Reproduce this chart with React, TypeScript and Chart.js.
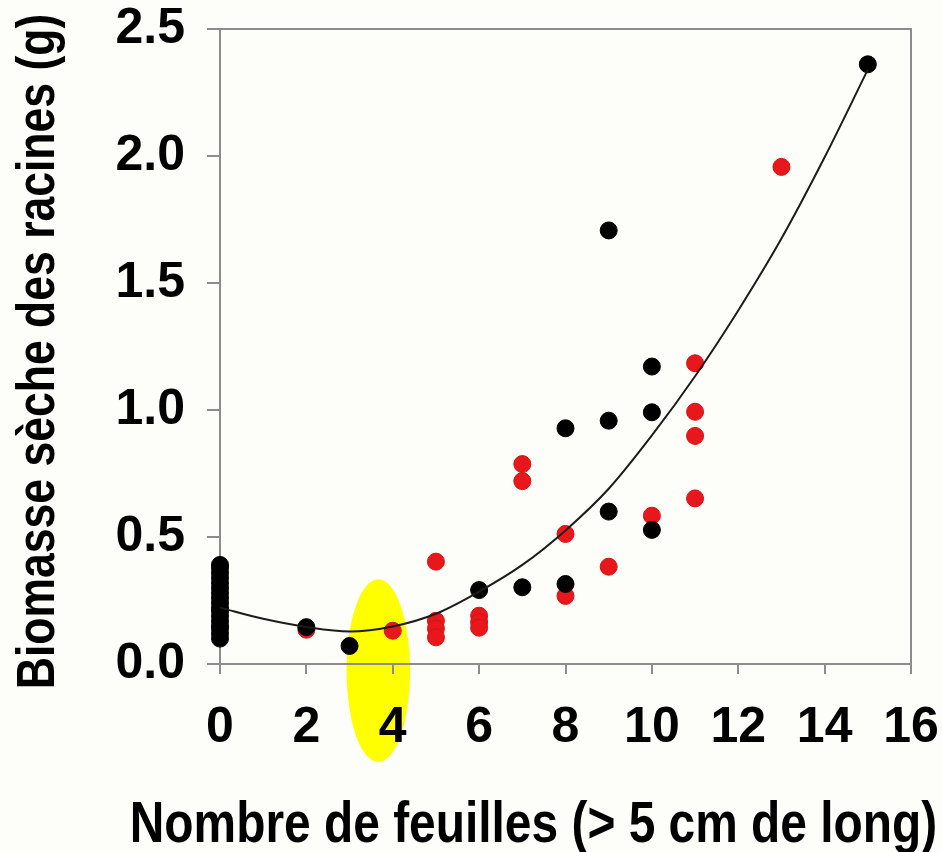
import React, { useEffect, useRef } from 'react';
import { Chart, registerables } from 'chart.js';

Chart.register(...registerables);

// Axis ticks
const X_TICKS = [0, 2, 4, 6, 8, 10, 12, 14, 16];
const Y_TICKS = [0, 0.5, 1, 1.5, 2, 2.5];
const Y_TICK_LABELS = ['0.0', '0.5', '1.0', '1.5', '2.0', '2.5'];

// Plants of group 1 (black)
const BLACK_X = [
  0, 0, 0, 0, 0, 0, 0, 0, 0, 0, 0, 0, 0, 0, 0, 0, 0,
  2, 3, 6, 7, 8, 8, 9, 9, 9, 10, 10, 10, 15,
];
const BLACK_Y = [
  0.10, 0.12, 0.14, 0.15, 0.17, 0.19, 0.21, 0.22, 0.24, 0.26, 0.28, 0.30, 0.32, 0.34, 0.36, 0.38, 0.39,
  0.145, 0.071, 0.291, 0.302, 0.315, 0.928, 1.707, 0.958, 0.60, 1.171, 0.991, 0.528, 2.361,
];

// Plants of group 2 (red)
const RED_X = [2, 4, 5, 5, 5, 5, 6, 6, 6, 7, 7, 8, 8, 9, 10, 11, 11, 11, 11, 13];
const RED_Y = [
  0.135, 0.131, 0.403, 0.17, 0.14, 0.105, 0.19, 0.165, 0.143, 0.787, 0.72,
  0.268, 0.512, 0.383, 0.584, 1.184, 0.993, 0.898, 0.652, 1.957,
];

// Polynomial trend line
const FIT_X = [0, 1, 2, 3, 4, 5, 6, 7, 8, 9, 10, 11, 12, 13, 14, 15];
const FIT_Y = [
  0.222, 0.178, 0.146, 0.128, 0.148, 0.198, 0.285, 0.39, 0.526, 0.69, 0.9,
  1.133, 1.392, 1.675, 1.995, 2.34,
];

// Highlighted zone around 4 leaves (centre and radii in axis units)
const ZONE_X = 3.665;
const ZONE_Y = -0.026;
const ZONE_RX = 0.734;
const ZONE_RY = 0.36;

const X_TITLE = 'Nombre de feuilles (> 5 cm de long)';
const Y_TITLE = 'Biomasse sèche des racines (g)';

const FONT = '"Liberation Sans", Arial, Helvetica, sans-serif';
const AXIS_GREY = '#8c8c8c';
const BG = '#fdfdf9';

const toPoints = (xs: number[], ys: number[]) => xs.map((x, i) => ({ x, y: ys[i] }));

const zonePlugin = {
  id: 'zone',
  beforeDraw(chart: any) {
    const { ctx, scales } = chart;
    const x = scales.x;
    const y = scales.y;
    const cx = x.getPixelForValue(ZONE_X);
    const cy = y.getPixelForValue(ZONE_Y);
    const rx = Math.abs(x.getPixelForValue(ZONE_X + ZONE_RX) - cx);
    const ry = Math.abs(y.getPixelForValue(ZONE_Y + ZONE_RY) - cy);
    ctx.save();
    ctx.fillStyle = '#ffff00';
    ctx.beginPath();
    ctx.ellipse(cx, cy, rx, ry, 0, 0, Math.PI * 2);
    ctx.fill();
    ctx.restore();
  },
};

const framePlugin = {
  id: 'frame',
  beforeDatasetsDraw(chart: any) {
    const { ctx, chartArea } = chart;
    ctx.save();
    ctx.strokeStyle = AXIS_GREY;
    ctx.lineWidth = 2;
    ctx.beginPath();
    ctx.moveTo(chartArea.left, chartArea.top);
    ctx.lineTo(chartArea.right, chartArea.top);
    ctx.lineTo(chartArea.right, chartArea.bottom);
    ctx.stroke();
    ctx.restore();
  },
};

const titlesPlugin = {
  id: 'axisTitles',
  afterDraw(chart: any) {
    const { ctx, chartArea } = chart;
    ctx.save();
    ctx.fillStyle = '#000';
    ctx.textAlign = 'center';
    ctx.textBaseline = 'alphabetic';

    // x title, condensed bold
    ctx.save();
    ctx.translate((chartArea.left + chartArea.right) / 2 - 32, chartArea.bottom + 178);
    ctx.scale(0.84, 1);
    ctx.font = `bold 57px ${FONT}`;
    ctx.fillText(X_TITLE, 0, 0);
    ctx.restore();

    // y title, rotated and condensed
    ctx.save();
    ctx.translate(chartArea.left - 166, (chartArea.top + chartArea.bottom) / 2 + 5);
    ctx.rotate(-Math.PI / 2);
    ctx.scale(0.84, 1);
    ctx.font = `bold 53px ${FONT}`;
    ctx.fillText(Y_TITLE, 0, 0);
    ctx.restore();

    ctx.restore();
  },
};

export default function App() {
  const canvasRef = useRef<HTMLCanvasElement | null>(null);

  useEffect(() => {
    const canvas = canvasRef.current;
    if (!canvas) return;

    const chart = new Chart(canvas, {
      type: 'scatter',
      data: {
        datasets: [
          {
            label: 'Tendance',
            data: toPoints(FIT_X, FIT_Y),
            showLine: true,
            borderColor: '#1c1c1c',
            borderWidth: 2,
            pointRadius: 0,
            cubicInterpolationMode: 'monotone',
            clip: false,
            order: 0,
          },
          {
            label: 'Groupe noir',
            data: toPoints(BLACK_X, BLACK_Y),
            backgroundColor: '#000000',
            borderColor: '#000000',
            borderWidth: 1,
            pointRadius: 8.5,
            pointHoverRadius: 8.5,
            clip: false,
            order: 1,
          },
          {
            label: 'Groupe rouge',
            data: toPoints(RED_X, RED_Y),
            backgroundColor: '#e8171b',
            borderColor: '#d41414',
            borderWidth: 1,
            pointRadius: 8.5,
            pointHoverRadius: 8.5,
            clip: false,
            order: 2,
          },
        ],
      },
      options: {
        responsive: false,
        animation: false,
        events: [],
        layout: { padding: { top: 29, right: 31, left: 0, bottom: 0 } },
        plugins: {
          legend: { display: false },
          tooltip: { enabled: false },
          title: { display: false },
        },
        scales: {
          x: {
            type: 'linear',
            position: 'bottom',
            min: 0,
            max: 16,
            afterBuildTicks: (s: any) => {
              s.ticks = X_TICKS.map((value) => ({ value }));
            },
            afterFit: (s: any) => {
              s.height = 188;
              s.paddingLeft = 0;
              s.paddingRight = 0;
            },
            ticks: {
              autoSkip: false,
              maxRotation: 0,
              color: '#000',
              padding: 24,
              font: { family: FONT, size: 50, weight: 'bold' },
              callback: (v: any) => String(v),
            },
            grid: {
              display: true,
              drawOnChartArea: false,
              drawTicks: true,
              tickLength: 10,
              color: AXIS_GREY,
              lineWidth: 2,
            },
            border: { display: true, color: AXIS_GREY, width: 2 },
          },
          y: {
            type: 'linear',
            position: 'left',
            min: 0,
            max: 2.5,
            afterBuildTicks: (s: any) => {
              s.ticks = Y_TICKS.map((value) => ({ value }));
            },
            afterFit: (s: any) => {
              s.width = 220;
              s.paddingTop = 0;
              s.paddingBottom = 0;
            },
            ticks: {
              autoSkip: false,
              color: '#000',
              padding: 22,
              font: { family: FONT, size: 50, weight: 'bold' },
              callback: (v: any) => Y_TICK_LABELS[Y_TICKS.indexOf(Number(v))],
            },
            grid: {
              display: true,
              drawOnChartArea: false,
              drawTicks: true,
              tickLength: 13,
              color: AXIS_GREY,
              lineWidth: 2,
            },
            border: { display: true, color: AXIS_GREY, width: 2 },
          },
        },
      },
      plugins: [zonePlugin, framePlugin, titlesPlugin],
    } as any);

    return () => chart.destroy();
  }, []);

  return (
    <div
      style={{
        position: 'fixed',
        left: 0,
        top: 0,
        width: 942,
        height: 852,
        background: BG,
        overflow: 'hidden',
      }}
    >
      <canvas ref={canvasRef} width={942} height={852} style={{ display: 'block' }} />
    </div>
  );
}
